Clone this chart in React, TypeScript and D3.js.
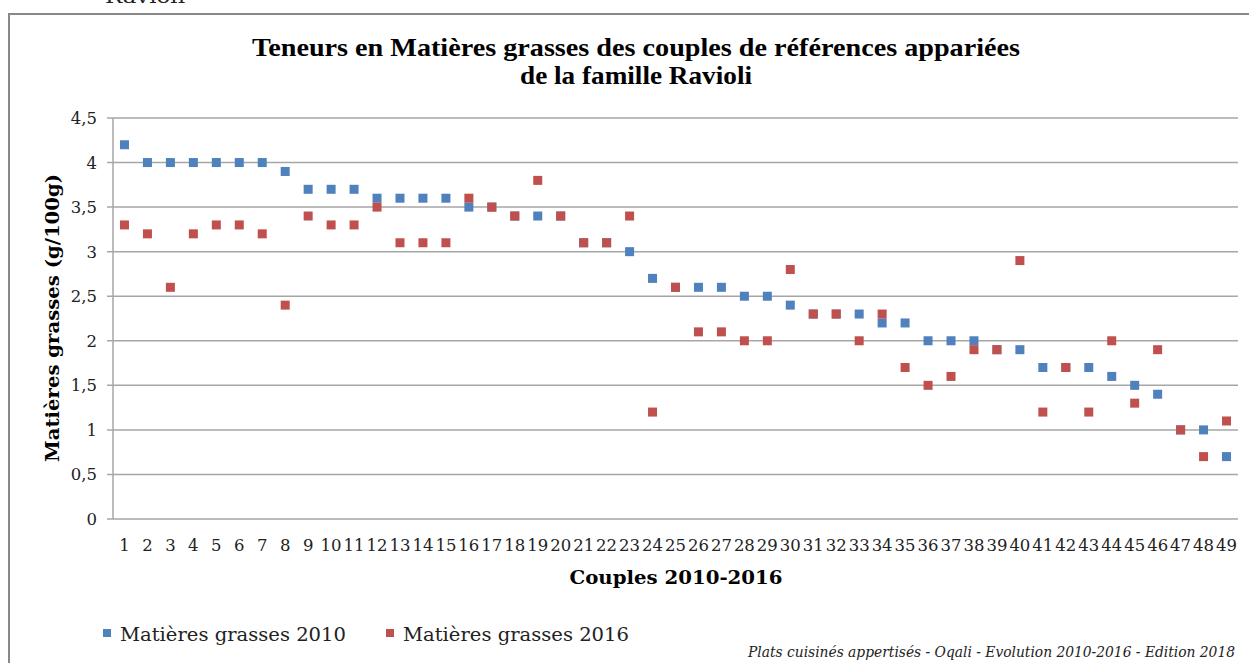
import React from "react";
import * as d3 from "d3";

const categories: string[] = Array.from({ length: 49 }, (_, i) => String(i + 1));
const fat2010: number[] = [
  4.2, 4.0, 4.0, 4.0, 4.0, 4.0, 4.0, 3.9, 3.7, 3.7,
  3.7, 3.6, 3.6, 3.6, 3.6, 3.5, 3.5, 3.4, 3.4, 3.4,
  3.1, 3.1, 3.0, 2.7, 2.6, 2.6, 2.6, 2.5, 2.5, 2.4,
  2.3, 2.3, 2.3, 2.2, 2.2, 2.0, 2.0, 2.0, 1.9, 1.9,
  1.7, 1.7, 1.7, 1.6, 1.5, 1.4, 1.0, 1.0, 0.7,
];
const fat2016: number[] = [
  3.3, 3.2, 2.6, 3.2, 3.3, 3.3, 3.2, 2.4, 3.4, 3.3,
  3.3, 3.5, 3.1, 3.1, 3.1, 3.6, 3.5, 3.4, 3.8, 3.4,
  3.1, 3.1, 3.4, 1.2, 2.6, 2.1, 2.1, 2.0, 2.0, 2.8,
  2.3, 2.3, 2.0, 2.3, 1.7, 1.5, 1.6, 1.9, 1.9, 2.9,
  1.2, 1.7, 1.2, 2.0, 1.3, 1.9, 1.0, 0.7, 1.1,
];
const yTicks: number[] = [0, 0.5, 1, 1.5, 2, 2.5, 3, 3.5, 4, 4.5];
const seriesNames: string[] = ["Matières grasses 2010", "Matières grasses 2016"];
const seriesColors: string[] = ["#4F81BD", "#C0504D"];

const SERIF = "'DejaVu Serif', serif";
const TITLE_FONT = "'Liberation Serif', serif";

export default function App() {
  const W = 1249, H = 663;
  const left = 113, right = 1238, top = 118, bottom = 519;
  const x = d3.scaleBand<string>().domain(categories).range([left, right]);
  const y = d3.scaleLinear().domain([0, 4.5]).range([bottom, top]);
  const fmt = (v: number) => String(v).replace(".", ",");
  const ms = 9;
  const series = [fat2010, fat2016];

  return (
    <svg width={W} height={H} style={{ position: "absolute", left: 0, top: 0, background: "#fff" }}>
      <rect x={0} y={0} width={W} height={H} fill="#fff" />
      <text x={105} y={3} fontFamily={SERIF} fontSize={18} fill="#222" textLength={80} lengthAdjust="spacingAndGlyphs">Ravioli</text>
      <rect x={9} y={14} width={1260} height={700} fill="none" stroke="#888" strokeWidth={2} />
      <text textAnchor="middle" fontFamily={TITLE_FONT} fontWeight="bold" fontSize={26}>
        <tspan x={636} y={56} textLength={768} lengthAdjust="spacingAndGlyphs">Teneurs en Matières grasses des couples de références appariées</tspan>
        <tspan x={636} y={84} textLength={232} lengthAdjust="spacingAndGlyphs">de la famille Ravioli</tspan>
      </text>
      {yTicks.map((t) => (
        <g key={t}>
          <line x1={107} x2={right} y1={y(t)} y2={y(t)} stroke="#a6a6a6" strokeWidth={1.5} />
          <text x={97} y={y(t) + 6} textAnchor="end" fontFamily={SERIF} fontSize={16.5} fill="#222">{fmt(t)}</text>
        </g>
      ))}
      <line x1={left} x2={left} y1={top} y2={bottom} stroke="#a6a6a6" strokeWidth={1.5} />
      {categories.map((c) => (
        <text key={c} x={(x(c) ?? 0) + x.bandwidth() / 2} y={551} textAnchor="middle" fontFamily={SERIF} fontSize={16.5} fill="#222"
          textLength={c.length > 1 ? 21 : undefined} lengthAdjust="spacingAndGlyphs">{c}</text>
      ))}
      <text x={676} y={584} textAnchor="middle" fontFamily={SERIF} fontWeight="bold" fontSize={18} textLength={213} lengthAdjust="spacingAndGlyphs">Couples 2010-2016</text>
      <text transform={`translate(59,318) rotate(-90)`} textAnchor="middle" fontFamily={SERIF} fontWeight="bold" fontSize={18} textLength={288} lengthAdjust="spacingAndGlyphs">Matières grasses (g/100g)</text>
      {series.map((s, si) => (
        <g key={si}>
          {s.map((v, i) => (
            <rect key={i} x={(x(categories[i]) ?? 0) + x.bandwidth() / 2 - ms / 2} y={y(v) - ms / 2} width={ms} height={ms} fill={seriesColors[si]} />
          ))}
        </g>
      ))}
      {seriesNames.map((n, i) => {
        const lx = i === 0 ? 103 : 386;
        return (
          <g key={n}>
            <rect x={lx} y={629} width={8} height={8} fill={seriesColors[i]} />
            <text x={lx + 17} y={641} fontFamily={SERIF} fontSize={19} fill="#222" textLength={226} lengthAdjust="spacingAndGlyphs">{n}</text>
          </g>
        );
      })}
      <text x={1235} y={657} textAnchor="end" fontFamily={SERIF} fontStyle="italic" fontSize={14} fill="#222" textLength={487} lengthAdjust="spacingAndGlyphs">Plats cuisinés appertisés - Oqali - Evolution 2010-2016 - Edition 2018</text>
    </svg>
  );
}
